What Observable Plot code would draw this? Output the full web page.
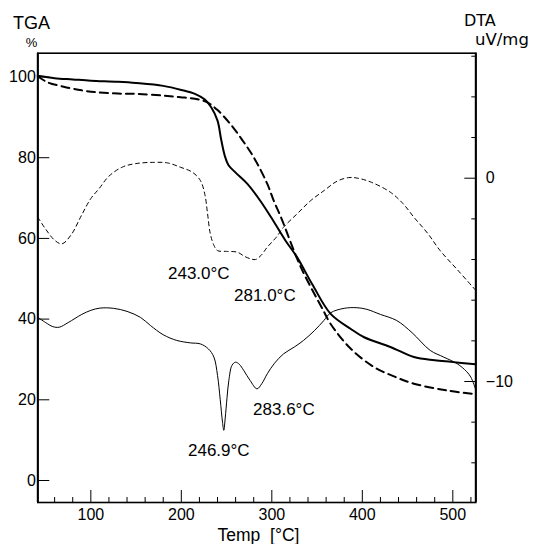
<!DOCTYPE html>
<html><head><meta charset="utf-8">
<script src="https://cdn.jsdelivr.net/npm/d3@7"></script>
<script src="https://cdn.jsdelivr.net/npm/@observablehq/plot@0.6"></script>
<style>body{margin:0;background:#fff}</style>
</head><body><div id="chart"></div>
<script>
// TGA (left axis, %) — solid thick
const tgaSolidT = [41.4,60,80,100,130,150,180,200,215,226,233,240,244,248,252,260,273,287,299,315,328,345,365,387,402,431,457,480,498,525];
const tgaSolidV = [100.3,99.7,99.4,99.1,98.8,98.5,97.8,96.8,95.8,94.4,92.5,89.2,84.5,80.5,78.2,76.3,73.5,69.4,65.3,59.5,55.3,48.5,41.3,37.6,35.5,33.1,30.6,29.8,29.4,28.8];
// TGA (left axis, %) — dashed thick
const tgaDashT = [41.4,52,70,90,107,130,151,180,199,215,228,240,254,267,280,295,302,310,332,357,365,387,413,435,457,494,525];
const tgaDashV = [100.2,98.7,97.6,96.7,96.2,95.9,95.8,95.4,95.0,94.6,93.8,91.8,88.4,84.5,80.1,73.5,69.4,65.3,52.9,42.1,38.8,32.7,28.1,25.8,24.0,22.3,21.4];
// DTA (right axis, uV/mg) — dashed thin
const dtaDashT = [41.4,50,60,68,78,90,100,109,120,135,150,170,185,199,212,221,226,229,232,236,240,250,262,270,277,282,288,295,305,313,328,343,358,372,385,395,410,431,445,457,472,486,505,525];
const dtaDashV = [-1.92,-2.5,-3.05,-3.23,-2.8,-1.8,-1.0,-0.52,0.1,0.55,0.72,0.78,0.75,0.54,0.3,-0.11,-0.8,-1.75,-2.73,-3.3,-3.56,-3.6,-3.64,-3.85,-3.97,-4.0,-3.8,-3.39,-2.9,-2.41,-1.75,-1.1,-0.6,-0.15,0.03,0.0,-0.2,-0.69,-1.25,-1.92,-2.7,-3.56,-4.5,-5.5];
// DTA (right axis, uV/mg) — solid thin
const dtaSolidT = [41.4,50,58,65,75,90,100,110,125,140,155,166,180,195,210,221,230,236,240,243,245.5,246.9,248.5,250.5,252.5,256,259.9,264,269,276,283.6,289,295,303,313,325,335,347,357.5,365,380,394,405,420,438,455,475,490,505,515,520,525];
const dtaSolidV = [-6.84,-7.1,-7.3,-7.33,-7.1,-6.7,-6.5,-6.39,-6.4,-6.55,-6.85,-7.25,-7.7,-7.98,-8.1,-8.15,-8.4,-8.8,-9.7,-10.9,-12.0,-12.4,-11.8,-10.8,-9.95,-9.2,-9.05,-9.15,-9.46,-9.95,-10.36,-10.1,-9.62,-9.1,-8.64,-8.3,-7.98,-7.5,-7.0,-6.62,-6.4,-6.37,-6.45,-6.7,-7.0,-7.6,-8.47,-8.8,-9.13,-9.5,-9.79,-10.36];
// Peak annotations (text, temperature, DTA level of the label)
const annText = ["243.0°C","281.0°C","283.6°C","246.9°C"];
const annT = [219.3,292.3,313.3,241.4];
const annV = [-4.71,-5.75,-11.40,-13.42];
// ticks
const xTickMajor = [100,200,300,400,500];
const xTickMinor = d3.range(60, 521, 20).filter(v => v % 100 !== 0);
const yTicks = [0,20,40,60,80,100];
const dtaTicks = d3.range(-14, 7, 2);
const dtaMajor = [0,-10];

const W = 535, H = 544, mL = 37.3, mR = 59.7, mT = 52.7, mB = 42;
const X0 = 41.4, X1 = 525.4, Y0 = -5.45, Y1 = 105.9;
const xPerPx = (X1 - X0) / (W - mL - mR);
const yPerPx = (Y1 - Y0) / (H - mT - mB);
// DTA values expressed on the left (TGA) scale
const dtaToY = d => 74.92 + 5.0384 * d;

const mk = (T, V, f = v => v) => T.map((t, i) => ({t, v: f(V[i])}));
const tgaSolid = mk(tgaSolidT, tgaSolidV);
const tgaDash = mk(tgaDashT, tgaDashV);
const dtaDash = mk(dtaDashT, dtaDashV, dtaToY);
const dtaSolid = mk(dtaSolidT, dtaSolidV, dtaToY);
const ann = annText.map((s, i) => ({s, t: annT[i], v: dtaToY(annV[i])}));

const font = "Liberation Sans, Arial, Helvetica, sans-serif";
const chart = Plot.plot({
  width: W, height: H,
  marginLeft: mL, marginRight: mR, marginTop: mT, marginBottom: mB,
  style: {fontFamily: font, background: "#fff", color: "black"},
  x: {domain: [X0, X1], label: null},
  y: {domain: [Y0, Y1], label: null},
  marks: [
    Plot.line(dtaSolid, {x: "t", y: "v", stroke: "black", strokeWidth: 1, curve: "catmull-rom"}),
    Plot.line(dtaDash, {x: "t", y: "v", stroke: "black", strokeWidth: 1, strokeDasharray: "4,3.5", curve: "catmull-rom"}),
    Plot.line(tgaDash, {x: "t", y: "v", stroke: "black", strokeWidth: 2, strokeDasharray: "8,5", curve: "catmull-rom"}),
    Plot.line(tgaSolid, {x: "t", y: "v", stroke: "black", strokeWidth: 2, curve: "catmull-rom"}),
    Plot.ruleX(xTickMinor, {x: d => d, y1: Y0, y2: Y0 + 5 * yPerPx, stroke: "black", strokeWidth: 1}),
    Plot.ruleX(xTickMajor, {x: d => d, y1: Y0, y2: Y0 + 12 * yPerPx, stroke: "black", strokeWidth: 1}),
    Plot.ruleY(yTicks, {y: d => d, x1: X0, x2: X0 + 12 * xPerPx, stroke: "black", strokeWidth: 1}),
    Plot.ruleY(dtaTicks, {y: d => dtaToY(d), x1: d => X1 - (dtaMajor.includes(d) ? 11 : 4) * xPerPx, x2: X1, stroke: "black", strokeWidth: 1}),
    Plot.frame({stroke: "black", strokeWidth: 1.6}),
    Plot.ruleX([X0, X1], {stroke: "black", strokeWidth: 2}),
    Plot.axisY(yTicks, {anchor: "left", tickSize: 0, tickPadding: 2, fontSize: 16, label: null}),
    Plot.axisX(xTickMajor, {anchor: "bottom", tickSize: 0, tickPadding: 6, fontSize: 16, label: null}),
    Plot.text(dtaMajor, {x: X1, y: d => dtaToY(d), text: d => d3.format("d")(d), dx: 10, textAnchor: "start", fontSize: 16, fill: "black"}),
    Plot.text(ann, {x: "t", y: "v", text: "s", fontSize: 17, fill: "black"})
  ]
});
const svg = d3.select(chart);
const add = (x, y, size, anchor, fam, txt) => svg.append("text")
  .attr("x", x).attr("y", y).attr("font-size", size).attr("text-anchor", anchor)
  .attr("font-family", fam).attr("fill", "black").style("white-space", "pre").text(txt);
add(13, 29, 18, "start", font, "TGA");
add(31.5, 47, 13, "middle", font, "%");
add(464, 26, 16, "start", "DejaVu Sans, sans-serif", "DTA");
add(475, 45, 16.5, "start", "DejaVu Sans, sans-serif", "uV/mg");
add(258.5, 541, 17.5, "middle", font, "Temp  [°C]");
document.getElementById("chart").appendChild(chart);
</script>
</body></html>
